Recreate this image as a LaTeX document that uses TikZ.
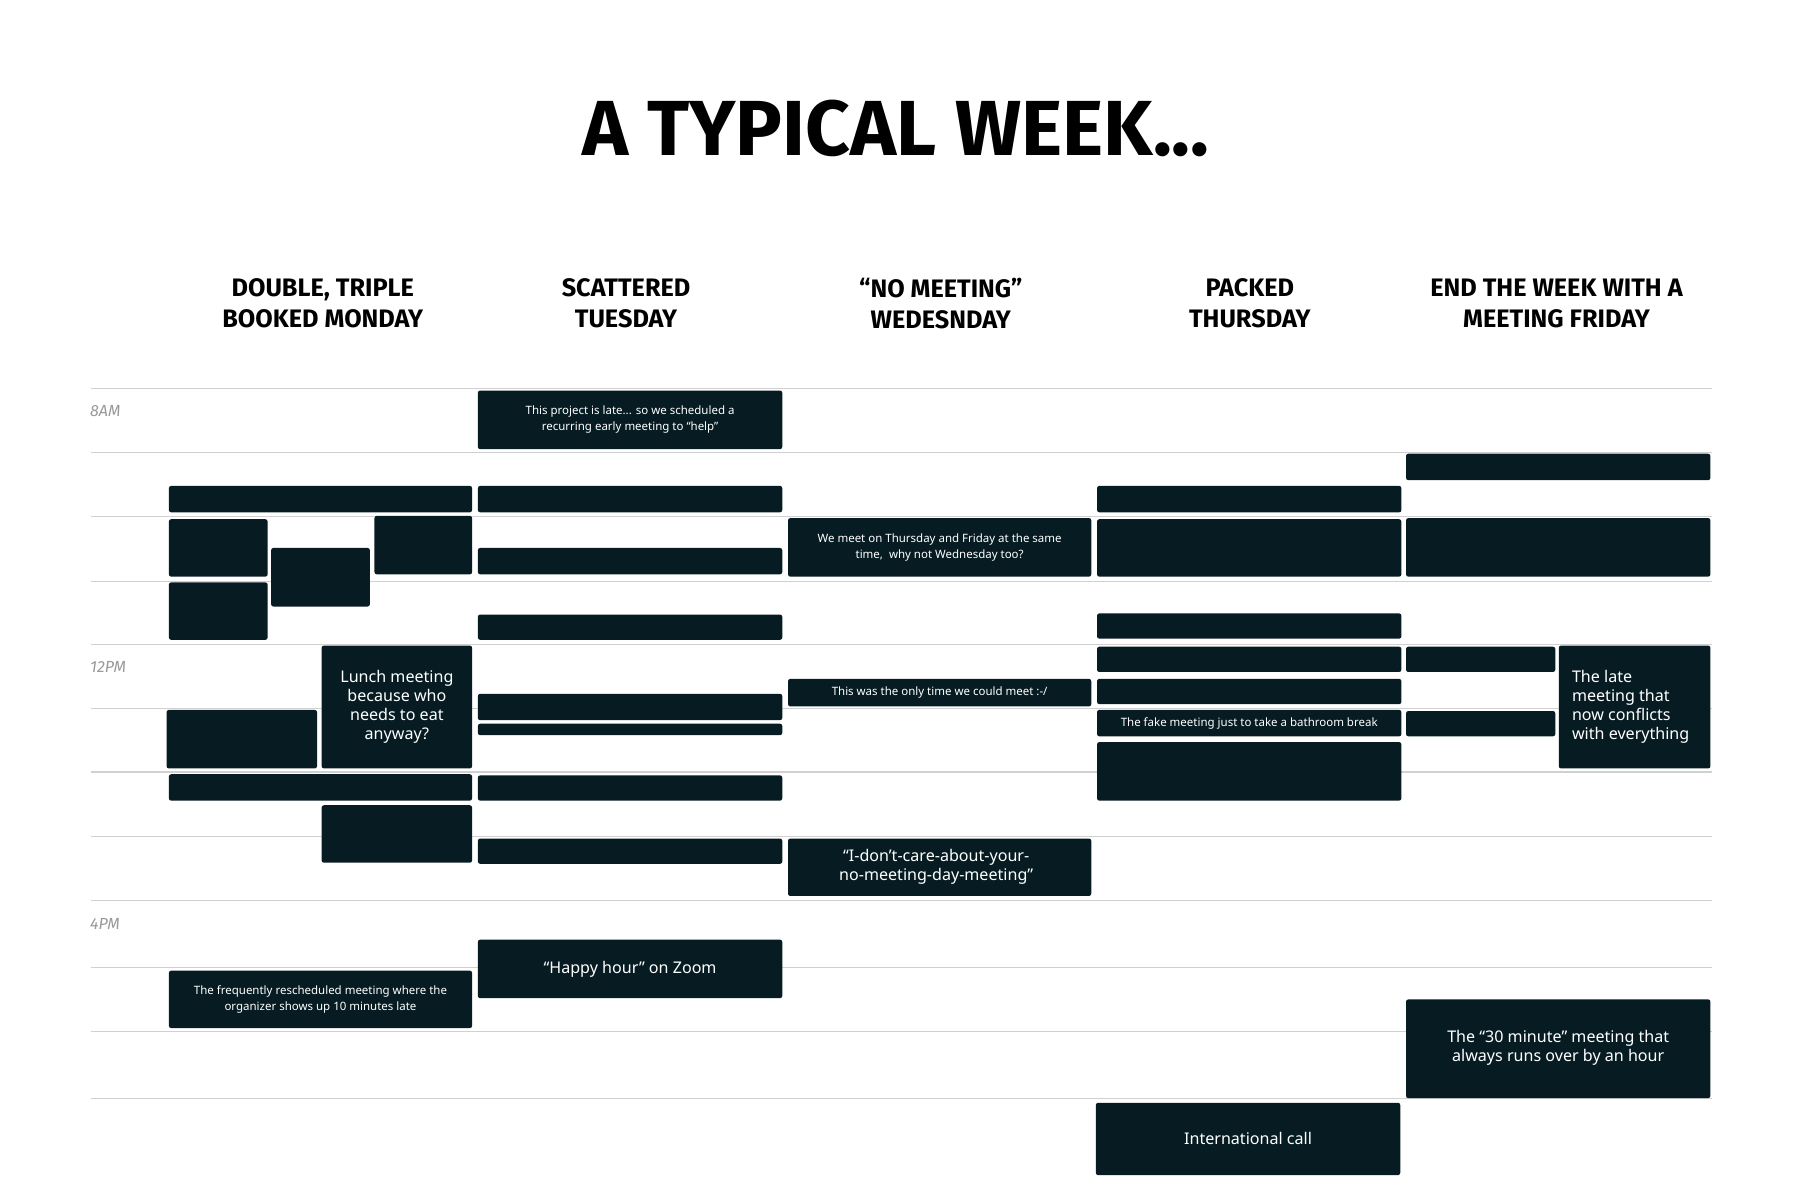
\documentclass[tikz,border=0pt]{standalone}
\usepackage{fontspec}
\setmainfont{Noto Sans}
\newfontfamily\headf{Fira Sans}
\definecolor{ink}{HTML}{061C22}
\definecolor{gridc}{HTML}{D0D0D0}
\begin{document}
\begin{tikzpicture}[x=1pt,y=-1pt,
  mt/.style={fill=ink,rounded corners=2pt},
  txt/.style 2 args={text=white,align=center,font=\fontsize{#1}{#2}\selectfont},
  head/.style={font=\headf\bfseries\fontsize{22}{27}\selectfont,align=center},
  tm/.style={font=\headf\itshape\fontsize{14}{16}\selectfont,text=gray!80,anchor=west}]
\useasboundingbox (0,0) rectangle (1567,1045);
\node[font=\headf\bfseries\fontsize{68}{72}\selectfont] (title) at (780,112) {A TYPICAL WEEK...};
\node[head] (h1) at (281,264) {DOUBLE, TRIPLE\\BOOKED MONDAY};
\node[head] (h2) at (545,264) {SCATTERED\\TUESDAY};
\node[head] (h3) at (819,264) {“NO MEETING”\\WEDESNDAY};
\node[head] (h4) at (1088,264) {PACKED\\THURSDAY};
\node[head] (h5) at (1355,264) {END THE WEEK WITH A\\MEETING FRIDAY};
\foreach \y in {338,394,450,506,561,617,672,728,784,842,898,956}
  \draw[gridc,line width=1pt] (79,\y) -- (1490,\y);
\node[tm] (t8) at (75,358) {8AM};
\node[tm] (t12) at (75,581) {12PM};
\node[tm] (t4) at (75,804) {4PM};
% Monday
\foreach \a/\b/\c/\d in {147/423/411/446,147/452/233/502,236/477/322/528,326/449/411/500,147/507/233/557,145/618/276/669,147/674/411/697,280/701/411/751}
  \fill[mt] (\a,\b) rectangle (\c,\d);
\fill[mt] (280,562) rectangle (411,669);
\node[txt={14}{16.5}] (m1) at (345.5,615.5) {Lunch meeting\\because who\\needs to eat\\anyway?};
\fill[mt] (147,845) rectangle (411,895);
\node[txt={10}{14}] (m2) at (279,870) {The frequently rescheduled meeting where the\\organizer shows up 10 minutes late};
% Tuesday
\foreach \b/\d in {423/446,477/500,535/557,604/627,630/640,675/697,730/752}
  \fill[mt] (416,\b) rectangle (681,\d);
\fill[mt] (416,340) rectangle (681,391);
\node[txt={10}{14}] (u1) at (548.5,365.5) {This project is late... so we scheduled a\\recurring early meeting to “help”};
\fill[mt] (416,818) rectangle (681,869);
\node[txt={14}{16.5}] (u2) at (548.5,843.5) {“Happy hour” on Zoom};
% Wednesday
\fill[mt] (686,451) rectangle (950,502);
\node[txt={10}{14}] (w1) at (818,476.5) {We meet on Thursday and Friday at the same\\time,\ \ why not Wednesday too?};
\fill[mt] (686,591) rectangle (950,615);
\node[txt={10}{14}] (w2) at (818,603) {This was the only time we could meet :-/};
\fill[mt] (686,730) rectangle (950,780);
\node[txt={14}{16.5}] (w3) at (815,755) {“I-don’t-care-about-your-\\no-meeting-day-meeting”};
% Thursday
\foreach \b/\d in {423/446,452/502,534/556,563/585,591/613,646/697}
  \fill[mt] (955,\b) rectangle (1220,\d);
\fill[mt] (955,618) rectangle (1220,641);
\node[txt={10}{14}] (r1) at (1087.5,629.5) {The fake meeting just to take a bathroom break};
\fill[mt] (954,960) rectangle (1219,1023);
\node[txt={14}{16.5}] (r2) at (1086.5,991.5) {International call};
% Friday
\foreach \a/\b/\c/\d in {1224/395/1489/418,1224/451/1489/502,1224/563/1354/585,1224/619/1354/641}
  \fill[mt] (\a,\b) rectangle (\c,\d);
\fill[mt] (1357,562) rectangle (1489,669);
\node[txt={14}{16.5},align=left,anchor=west] (f1) at (1365,615.5) {The late\\meeting that\\now conflicts\\with everything};
\fill[mt] (1224,870) rectangle (1489,956);
\node[txt={14}{16.5}] (f2) at (1356.5,912) {The “30 minute” meeting that\\always runs over by an hour};
\end{tikzpicture}
\end{document}
